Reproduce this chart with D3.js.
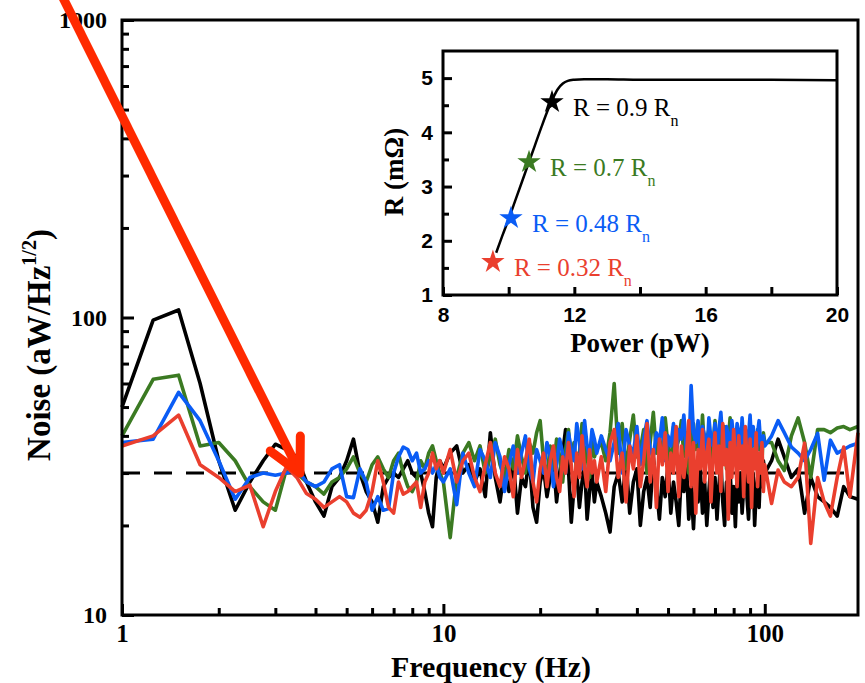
<!DOCTYPE html>
<html>
<head>
<meta charset="utf-8">
<script src="https://cdn.jsdelivr.net/npm/d3@7"></script>
<style>
  body { margin: 0; background: #fff; }
  svg { display: block; }
</style>
</head>
<body>
<svg id="chart"></svg>
<script>
var width = 865;
var height = 683;

// frequency grid (Hz), shared by the four noise spectra
var freq = [
  1, 1.25, 1.5, 1.75, 2, 2.25, 2.5, 2.75, 3, 3.25, 3.5, 3.75, 4,
  4.25, 4.5, 4.75, 5, 5.25, 5.5, 5.75, 6, 6.25, 6.5, 6.75, 7, 7.25, 7.5, 7.75, 8, 8.25, 8.5, 8.75, 9, 9.25, 9.5, 9.75, 10,
  10.5, 11, 11.5, 12, 12.5, 13, 13.5, 14, 14.5, 15, 15.5, 16, 16.5, 17, 17.5, 18, 18.5, 19, 19.5, 20,
  20.5, 21, 21.5, 22, 22.5, 23, 23.5, 24, 24.5, 25, 25.5, 26, 26.5, 27, 27.5, 28, 28.5, 29, 29.5, 30,
  31, 32, 33, 34, 35, 36, 37, 38, 39, 40, 41, 42, 43, 44, 45, 46, 47, 48, 49, 50,
  51, 52, 53, 54, 55, 56, 57, 58, 59, 60, 61, 62, 63, 64, 65, 66, 67, 68, 69, 70,
  71, 72, 73, 74, 75, 76, 77, 78, 79, 80, 81, 82, 83, 84, 85, 86, 87, 88, 89, 90,
  91, 92, 93, 94, 95, 96, 97, 98, 99, 100,
  105, 110, 115, 121, 127, 133, 139, 146, 153, 160, 168, 176, 184, 195
];

// noise, aW/Hz^1/2 (R = 0.9 Rn)
var noiseBlack = [
  50, 98, 106, 60, 33, 22.5, 28, 33, 37.5, 36, 34, 28, 24,
  21.5, 27, 29, 33, 39, 30, 26, 24, 20.5, 27, 29, 30, 29, 31, 33, 30, 29, 30, 26, 22, 19.8, 29, 33, 31,
  35, 37, 30, 32, 28, 31, 25, 41, 29, 24, 31, 26, 33, 22, 29, 27, 34, 23, 20.5, 28,
  31, 25, 29, 33, 24, 30, 35, 42, 31, 20.5, 27, 30, 23, 28, 32, 21, 26, 30, 24, 28,
  25, 22, 19, 27, 30, 24, 33, 22, 28, 31, 20, 26, 29, 23, 34, 27, 21, 29, 25, 32,
  22, 28, 24, 20, 30, 26, 33, 21, 27, 19.5, 29, 24, 31, 22, 28, 20, 26, 32, 23, 29,
  21, 27, 33, 24, 20, 28, 25, 31, 22, 27, 19.8, 29, 24, 30, 22, 27, 33, 25, 21, 28,
  24, 30, 20, 26, 29, 23, 31, 27, 33, 30,
  33, 39, 34, 29, 31, 22, 29, 25, 24, 23, 21.5, 27, 25, 24.5
];

// R = 0.7 Rn
var noiseGreen = [
  40, 62, 64, 37, 38, 33, 27, 24, 22.5, 31, 30, 28, 27,
  25.5, 28, 29, 31, 34, 30, 28, 32, 34, 31, 29, 33, 35, 30, 27, 26, 28, 33, 31, 35, 37, 33, 30, 28,
  18.2, 29, 35, 38, 33, 37, 30, 34, 39, 32, 29, 36, 31, 40, 34, 30, 38, 35, 41, 45,
  33, 29, 37, 31, 39, 34, 28, 36, 42, 33, 38, 30, 35, 44, 32, 37, 29, 40, 34, 36,
  38, 33, 41, 60, 35, 44, 31, 39, 47, 34, 36, 42, 30, 38, 48, 35, 40, 33, 46, 37,
  31, 43, 36, 39, 45, 34, 41, 30, 38, 44, 36, 40, 33, 47, 35, 39, 42, 32, 37, 45,
  38, 34, 41, 36, 43, 31, 39, 46, 35, 40, 33, 42, 37, 38, 44, 34, 41, 36, 39, 32,
  43, 37, 40, 35, 42, 36, 38, 33, 41, 38,
  38, 33, 30.6, 40, 46, 38, 29, 42, 42, 41, 42.5, 43, 42, 43
];

// R = 0.48 Rn
var noiseBlue = [
  38, 39, 56, 45, 33, 24.5, 29, 30, 29.5, 30, 31, 28, 27,
  28, 31, 32, 25, 24.8, 31, 28, 22.5, 25, 22.5, 22.8, 30, 34, 36.7, 36, 33, 35, 30, 31, 33, 30, 32, 29, 28,
  31, 23.5, 35, 30, 27, 36, 33, 29, 38, 34, 26, 32, 37, 30, 35, 40, 31, 28, 36, 33,
  30, 38, 34, 27, 32, 39, 35, 30, 41, 36, 33, 44, 38, 31, 45, 37, 34, 42, 39, 35,
  40, 36, 33, 38, 44, 30, 42, 37, 35, 43, 32, 39, 45, 36, 34, 41, 38, 46, 33, 40,
  37, 44, 35, 42, 39, 47, 36, 34, 59, 41, 38, 45, 36, 43, 40, 33, 46, 39, 37, 44,
  35, 42, 48, 38, 36, 43, 40, 34, 45, 39, 37, 44, 41, 35, 46, 38, 42, 36, 40, 47,
  37, 43, 39, 34, 41, 45, 38, 36, 40, 37,
  40, 45, 41, 36.7, 35, 33, 36, 40.8, 28.4, 38.7, 35, 36, 37, 37.8
];

// R = 0.32 Rn
var noiseRed = [
  37, 40, 47, 32, 29, 26, 27.3, 19.8, 26, 31.5, 29, 25.6, 24.5,
  23, 24, 25, 24, 22, 21.3, 22.5, 26, 33, 28, 23, 22, 28, 25.5, 26, 27, 28, 23, 28, 30, 35, 31, 33, 30,
  36, 28, 33, 35, 29, 26, 32, 38, 30, 27, 34, 31, 25, 36, 29, 33, 39, 28, 24, 31,
  35, 27, 33, 37, 29, 26, 34, 30, 38, 32, 25, 35, 29, 40, 31, 27, 36, 30, 33, 28,
  34, 26, 38, 42, 29, 35, 24, 37, 31, 40, 27, 33, 44, 28, 36, 23, 39, 32, 41, 26,
  35, 30, 43, 25, 37, 29, 34, 45, 27, 38, 22, 36, 31, 42, 28, 35, 39, 24, 33, 41,
  30, 37, 26, 44, 32, 36, 21, 38, 29, 42, 34, 27, 40, 31, 37, 25, 43, 33, 28, 39,
  23, 36, 31, 41, 27, 35, 30, 38, 26, 32,
  23.7, 30.7, 28, 27, 29, 37.8, 17.4, 29, 24, 21.5, 29, 36.7, 25, 41
];

var seriesColors = ["#000000", "#3b7a22", "#0a5cf5", "#ea3f2e"];
var referenceNoise = 30;

var xTicks = [1, 10, 100];
var xMinor = [2, 3, 4, 5, 6, 7, 8, 9, 20, 30, 40, 50, 60, 70, 80, 90];
var yTicks = [10, 100, 1000];
var yMinor = [20, 30, 40, 50, 60, 70, 80, 90, 200, 300, 400, 500, 600, 700, 800, 900];

// inset: R vs power
var power = [9.62, 9.8, 10.0, 10.2, 10.4, 10.6, 10.8, 11.0, 11.2, 11.35, 11.5, 11.65, 11.8, 12.0, 12.3, 13, 14, 16, 18, 20];
var resistance = [1.78, 2.08, 2.4, 2.74, 3.08, 3.42, 3.76, 4.1, 4.42, 4.63, 4.8, 4.9, 4.95, 4.97, 4.98, 4.98, 4.97, 4.97, 4.97, 4.96];
var starPower = [11.32, 10.62, 10.07, 9.52];
var starR = [4.56, 3.45, 2.42, 1.61];
var starLabels = ["0.9", "0.7", "0.48", "0.32"];
var insetXTicks = [8, 12, 16, 20];
var insetXMinor = [10, 14, 18];
var insetYTicks = [1, 2, 3, 4, 5];
var insetYMinor = [1.5, 2.5, 3.5, 4.5];

// red annotation arrow, in data units (Hz, noise)
var arrowFreq = [0.64, 3.58];
var arrowNoise = [1250, 30];

var serif = "'Liberation Serif', 'Times New Roman', serif";
var sans = "'Liberation Sans', Arial, sans-serif";

var svg = d3.select("#chart")
  .attr("width", width)
  .attr("height", height);

var xScale = d3.scaleLog().domain([1, 195]).range([122, 858]);
var yScale = d3.scaleLog().domain([10, 1000]).range([615, 20]);

// dashed reference level
svg.append("line")
  .attr("x1", xScale(1))
  .attr("x2", xScale(195))
  .attr("y1", yScale(referenceNoise))
  .attr("y2", yScale(referenceNoise))
  .attr("stroke", "#000")
  .attr("stroke-width", 3)
  .attr("stroke-dasharray", "18,14");

var line = d3.line()
  .x(d => xScale(d[0]))
  .y(d => yScale(d[1]));

[noiseBlack, noiseGreen, noiseBlue, noiseRed].forEach(function (vals, i) {
  svg.append("path")
    .datum(d3.zip(freq, vals))
    .attr("fill", "none")
    .attr("stroke", seriesColors[i])
    .attr("stroke-width", 3.6)
    .attr("stroke-linejoin", "round")
    .attr("d", line);
});

// main axes, ticks pointing inward
var xAxis = svg.append("g")
  .attr("transform", "translate(0," + yScale(10) + ")")
  .call(d3.axisBottom(xScale).tickValues(xTicks).tickSize(-11).tickPadding(9)
    .tickFormat(d3.format("d")));
svg.append("g")
  .attr("transform", "translate(0," + yScale(10) + ")")
  .call(d3.axisBottom(xScale).tickValues(xMinor).tickSize(-7).tickFormat(""));
var yAxis = svg.append("g")
  .attr("transform", "translate(" + xScale(1) + ",0)")
  .call(d3.axisLeft(yScale).tickValues(yTicks).tickSize(-12).tickPadding(15)
    .tickFormat(d3.format("d")));
svg.append("g")
  .attr("transform", "translate(" + xScale(1) + ",0)")
  .call(d3.axisLeft(yScale).tickValues(yMinor).tickSize(-7).tickFormat(""));

svg.selectAll(".domain").remove();
svg.selectAll(".tick line").attr("stroke", "#000").attr("stroke-width", 3);

xAxis.selectAll("text")
  .attr("font-family", serif)
  .attr("font-weight", "bold")
  .attr("font-size", 25)
  .attr("fill", "#000");
yAxis.selectAll("text")
  .attr("font-family", serif)
  .attr("font-weight", "bold")
  .attr("font-size", 24)
  .attr("fill", "#000");

svg.append("rect")
  .attr("x", xScale(1))
  .attr("y", yScale(1000))
  .attr("width", xScale(195) - xScale(1))
  .attr("height", yScale(10) - yScale(1000))
  .attr("fill", "none")
  .attr("stroke", "#000")
  .attr("stroke-width", 3);

svg.append("text")
  .attr("x", 491)
  .attr("y", 677)
  .attr("text-anchor", "middle")
  .attr("font-family", serif)
  .attr("font-weight", "bold")
  .attr("font-size", 30)
  .text("Frequency (Hz)");

var yLabel = svg.append("text")
  .attr("transform", "translate(50,345) rotate(-90)")
  .attr("text-anchor", "middle")
  .attr("font-family", serif)
  .attr("font-weight", "bold")
  .attr("font-size", 33);
yLabel.append("tspan").text("Noise (aW/Hz");
yLabel.append("tspan").attr("font-size", 20).attr("dy", -14).text("1/2");
yLabel.append("tspan").attr("dy", 14).text(")");

// inset
var ix = d3.scaleLinear().domain([8, 20]).range([443, 837]);
var iy = d3.scaleLinear().domain([1, 5.5]).range([295, 51]);

svg.append("rect")
  .attr("x", ix(8))
  .attr("y", iy(5.5))
  .attr("width", ix(20) - ix(8))
  .attr("height", iy(1) - iy(5.5))
  .attr("fill", "#fff");

var inset = svg.append("g");

inset.append("g")
  .attr("transform", "translate(0," + iy(1) + ")")
  .call(d3.axisBottom(ix).tickValues(insetXTicks).tickSize(-8).tickPadding(12)
    .tickFormat(d3.format("d")));
inset.append("g")
  .attr("transform", "translate(0," + iy(1) + ")")
  .call(d3.axisBottom(ix).tickValues(insetXMinor).tickSize(-8).tickFormat(""));
inset.append("g")
  .attr("transform", "translate(" + ix(8) + ",0)")
  .call(d3.axisLeft(iy).tickValues(insetYTicks).tickSize(-9).tickPadding(10)
    .tickFormat(d3.format("d")));
inset.append("g")
  .attr("transform", "translate(" + ix(8) + ",0)")
  .call(d3.axisLeft(iy).tickValues(insetYMinor).tickSize(-6).tickFormat(""));

inset.selectAll(".domain").remove();
inset.selectAll(".tick line").attr("stroke", "#000").attr("stroke-width", 3);
inset.selectAll(".tick text")
  .attr("font-family", sans)
  .attr("font-weight", "bold")
  .attr("font-size", 21)
  .attr("fill", "#000");

inset.append("rect")
  .attr("x", ix(8))
  .attr("y", iy(5.5))
  .attr("width", ix(20) - ix(8))
  .attr("height", iy(1) - iy(5.5))
  .attr("fill", "none")
  .attr("stroke", "#000")
  .attr("stroke-width", 3);

inset.append("path")
  .datum(d3.zip(power, resistance))
  .attr("fill", "none")
  .attr("stroke", "#000")
  .attr("stroke-width", 2.5)
  .attr("d", d3.line().x(d => ix(d[0])).y(d => iy(d[1])).curve(d3.curveMonotoneX));

var star = d3.symbol().type(d3.symbolStar).size(170);
starPower.forEach(function (p, i) {
  var sx = ix(p), sy = iy(starR[i]);
  inset.append("path")
    .attr("d", star)
    .attr("transform", "translate(" + sx + "," + sy + ")")
    .attr("fill", seriesColors[i]);
  var t = inset.append("text")
    .attr("x", sx + 21)
    .attr("y", sy + 14)
    .attr("font-family", serif)
    .attr("font-size", 25)
    .attr("fill", seriesColors[i]);
  t.append("tspan").text("R = " + starLabels[i] + " R");
  t.append("tspan").attr("font-size", 16).attr("dy", 10).text("n");
});

inset.append("text")
  .attr("x", 640)
  .attr("y", 352)
  .attr("text-anchor", "middle")
  .attr("font-family", serif)
  .attr("font-weight", "bold")
  .attr("font-size", 27)
  .text("Power (pW)");

inset.append("text")
  .attr("transform", "translate(403,172) rotate(-90)")
  .attr("text-anchor", "middle")
  .attr("font-family", serif)
  .attr("font-weight", "bold")
  .attr("font-size", 27)
  .text("R (m\u03a9)");

// red arrow
var ax0 = xScale(arrowFreq[0]), ay0 = yScale(arrowNoise[0]);
var ax1 = xScale(arrowFreq[1]), ay1 = yScale(arrowNoise[1]);
var ang = Math.atan2(ay0 - ay1, ax0 - ax1);
var wing = 37, spread = 27 * Math.PI / 180;
var arrowRed = "#ff2a00";
svg.append("line")
  .attr("x1", ax0).attr("y1", ay0)
  .attr("x2", ax1).attr("y2", ay1)
  .attr("stroke", arrowRed)
  .attr("stroke-width", 9);
svg.append("path")
  .attr("d", "M" + (ax1 + wing * Math.cos(ang - spread)) + "," + (ay1 + wing * Math.sin(ang - spread)) +
    "L" + ax1 + "," + ay1 +
    "L" + (ax1 + wing * Math.cos(ang + spread)) + "," + (ay1 + wing * Math.sin(ang + spread)))
  .attr("fill", "none")
  .attr("stroke", arrowRed)
  .attr("stroke-width", 9)
  .attr("stroke-linecap", "round")
  .attr("stroke-linejoin", "round");
</script>
</body>
</html>
